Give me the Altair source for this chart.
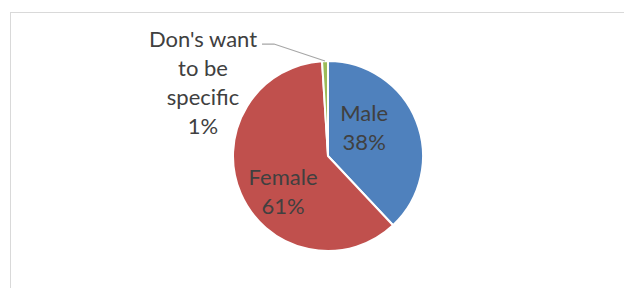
import math
import altair as alt
import pandas as pd

# ---- data ----
categories = ["Male", "Female", "Don's want to be specific"]
values = [38, 61, 1]
label_lines = [["Male", "38%"], ["Female", "61%"], ["Don's want", "to be", "specific", "1%"]]
colors = ["#4F81BD", "#C0504D", "#9BBB59"]

df = pd.DataFrame({
    "category": categories,
    "value": values,
    "ord": list(range(len(categories))),
    "label": ["\n".join(l) for l in label_lines],
})

# ---- layout ----
W, H = 616, 280
CX, CY, R = 320, 148, 95
TOTAL = sum(values)
FONT = "Lato"
FS = 22
TXT = "#404040"

theta_scale = alt.Scale(domain=[0, TOTAL])

base = alt.Chart(df)

pie = base.mark_arc(stroke="white", strokeWidth=2, radius=R).encode(
    theta=alt.Theta("value:Q", stack=True, scale=theta_scale),
    color=alt.Color("category:N", scale=alt.Scale(domain=categories, range=colors), legend=None),
    order=alt.Order("ord:Q"),
    x=alt.value(CX),
    y=alt.value(CY),
)

mid = base.transform_window(
    cum="sum(value)", sort=[alt.SortField("ord")], frame=[None, 0]
).transform_calculate(mid="datum.cum - datum.value / 2")


def inner_label(cat, r, dx, dy):
    return mid.transform_filter(alt.datum.category == cat).mark_text(
        font=FONT, fontSize=FS, color=TXT, lineBreak="\n", lineHeight=29,
        align="center", baseline="middle", dx=dx, dy=dy,
    ).encode(
        theta=alt.Theta("mid:Q", stack=None, scale=theta_scale),
        radius=alt.value(r),
        text="label:N",
        x=alt.value(CX),
        y=alt.value(CY),
    )


male_lbl = inner_label("Male", 40, -1, -27)
female_lbl = inner_label("Female", 49, 0, 3)

# outside label with leader line for the small slice
cum_before = values[0] + values[1]
ang = 2 * math.pi * (cum_before + values[2] / 2) / TOTAL
end_x = CX + R * math.sin(ang)
end_y = CY - R * math.cos(ang)
leader = pd.DataFrame({
    "i": [0, 1, 2],
    "x": [end_x - 63, end_x - 51, end_x],
    "y": [end_y - 17, end_y - 17, end_y],
})
leader_line = alt.Chart(leader).mark_line(color="#A6A6A6", strokeWidth=1.2).encode(
    x=alt.X("x:Q", scale=None, axis=None),
    y=alt.Y("y:Q", scale=None, axis=None),
    order="i:Q",
)

outer_lbl = base.transform_filter(alt.datum.ord == 2).mark_text(
    font=FONT, fontSize=FS, color=TXT, lineBreak="\n", lineHeight=29,
    align="center", baseline="middle",
).encode(
    text="label:N",
    x=alt.value(end_x - 122),
    y=alt.value(end_y - 21),
)

# chart frame (left and top edges visible)
one = alt.Chart(pd.DataFrame({"a": [0]}))
frame_left = one.mark_rule(color="#D9D9D9", strokeWidth=1).encode(
    x=alt.value(2.5), y=alt.value(4), y2=alt.value(H)
)
frame_top = one.mark_rule(color="#D9D9D9", strokeWidth=1).encode(
    x=alt.value(2), x2=alt.value(W), y=alt.value(4.5)
)

chart = alt.layer(
    frame_left, frame_top, pie, leader_line, male_lbl, female_lbl, outer_lbl
).properties(
    width=W, height=H, padding=0, autosize="none", background="white"
).configure_view(stroke=None)

chart.save("out.html", embed_options={"renderer": "svg", "actions": False})
